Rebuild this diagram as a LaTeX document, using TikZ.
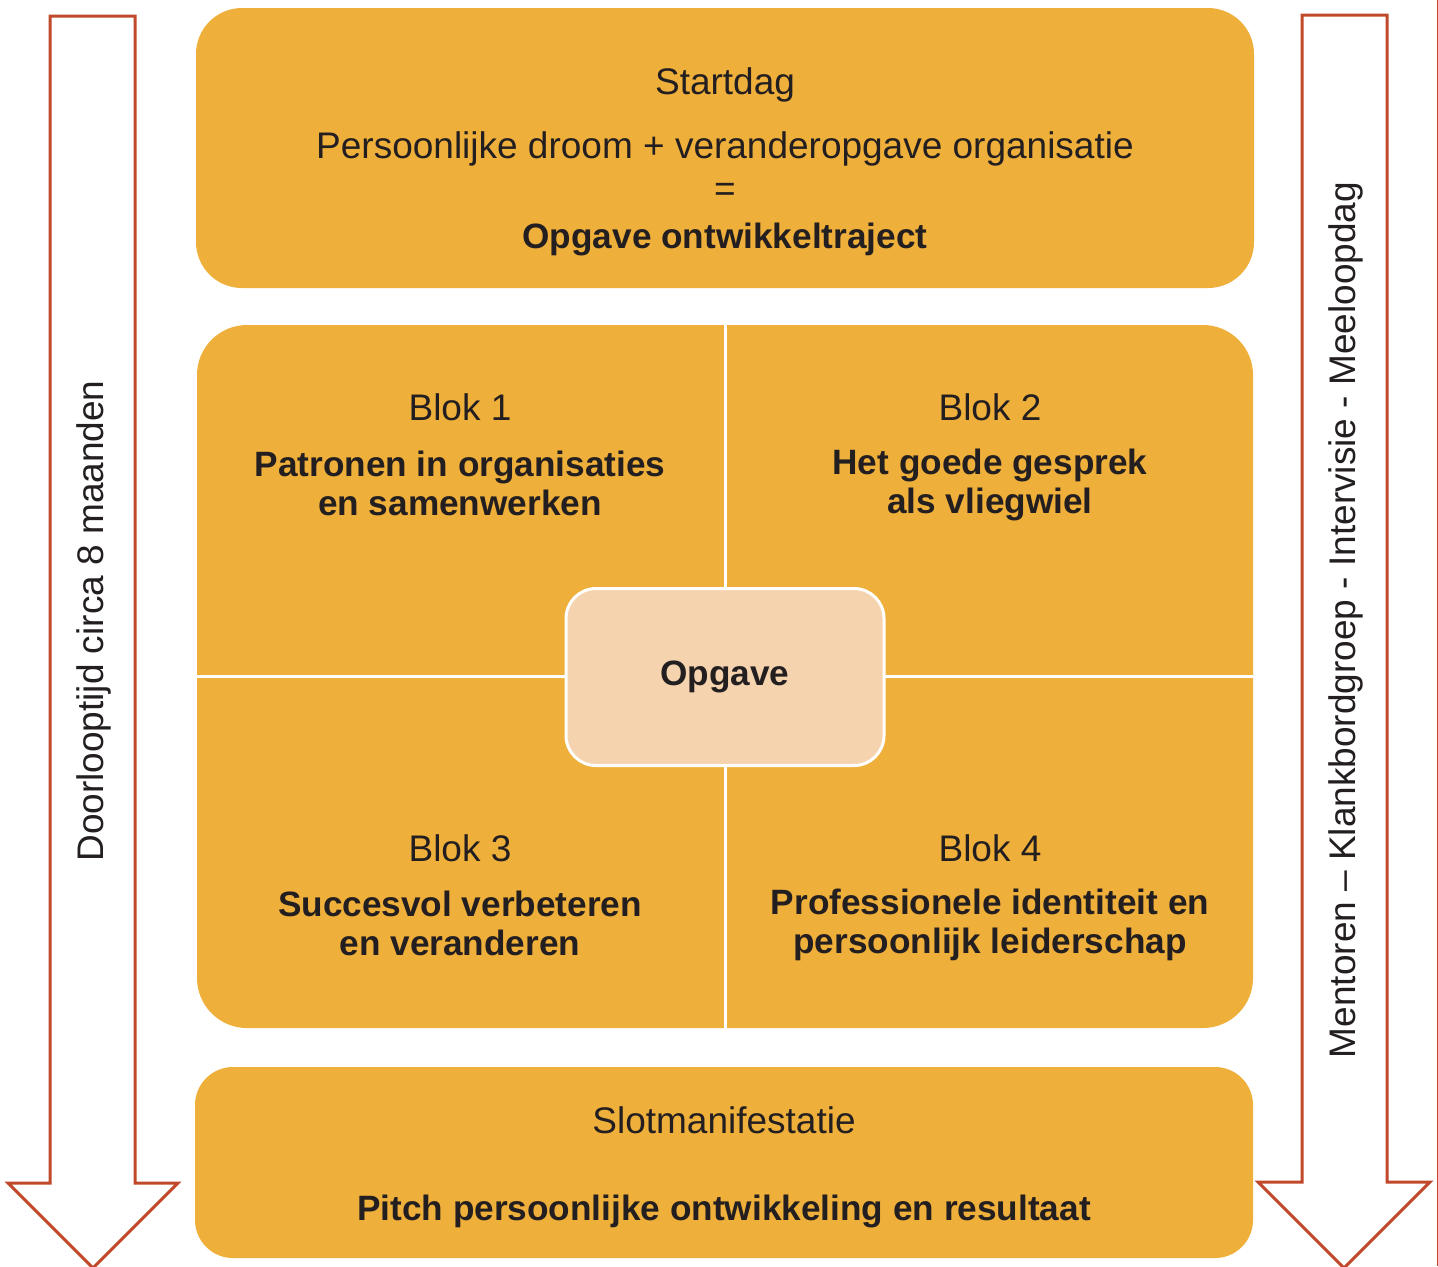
\documentclass[tikz,border=0pt]{standalone}
\usepackage{fontspec}
\setmainfont{Liberation Sans}
\definecolor{orng}{HTML}{EFAF3B}
\definecolor{peach}{HTML}{F5D3AE}
\definecolor{rust}{HTML}{C1492B}
\definecolor{ink}{HTML}{231F20}
\tikzset{
  panel/.style={fill=orng},
  divider/.style={draw=white, line width=1.5pt},
  bigarrow/.style={draw=rust, line width=1.5pt, line join=miter, fill=white},
  reg/.style={text=ink, font=\fontsize{18.5}{22}\selectfont, inner sep=0pt},
  bld/.style={text=ink, font=\fontsize{17.6}{19.6}\selectfont\bfseries, align=center, inner sep=0pt},
  core/.style={draw=white, line width=1.5pt, fill=peach, rounded corners=15pt,
    minimum width=159pt, minimum height=88.5pt, text=ink,
    font=\fontsize{17.6}{20}\selectfont\bfseries},
}
\begin{document}
\begin{tikzpicture}[x=0.5pt,y=-0.5pt]
\useasboundingbox (0,0) rectangle (1438,1266);
% arrows
\draw[bigarrow] (50,16) -- (135,16) -- (135,1183) -- (178,1183) -- (93,1268) -- (8,1183) -- (50,1183) -- cycle;
\draw[bigarrow] (1302,15) -- (1387,15) -- (1387,1182) -- (1430,1182) -- (1344,1268) -- (1258,1182) -- (1302,1182) -- cycle;
\draw[rust, line width=0.6pt] (1437.4,0) -- (1437.4,1266);
\node[reg, rotate=90] (dur) at (94,621) {Doorlooptijd circa 8 maanden};
\node[reg, rotate=90] (sup) at (1346,620) {Mentoren – Klankbordgroep - Intervisie - Meeloopdag};
% top panel
\fill[panel, rounded corners=23pt] (196,8) rectangle (1254,288);
\node[reg] (start) at (725,85) {Startdag};
\node[reg] (droom) at (725,149) {Persoonlijke droom + veranderopgave organisatie};
\node[reg] (eq) at (725,192) {=};
\node[bld] (opg) at (725,239) {Opgave ontwikkeltraject};
% middle panel
\fill[panel, rounded corners=25pt] (197,325) rectangle (1253,1028);
\draw[divider] (725,325) -- (725,1028);
\draw[divider] (197,676) -- (1253,676);
\node[reg] (b1) at (460,407) {Blok 1};
\node[bld] (b1t) at (460,483) {Patronen in organisaties\\en samenwerken};
\node[reg] (b2) at (990,407) {Blok 2};
\node[bld] (b2t) at (990,485) {Het goede gesprek\\als vliegwiel};
\node[reg] (b3) at (460,848) {Blok 3};
\node[bld] (b3t) at (460,923) {Succesvol verbeteren\\en veranderen};
\node[reg] (b4) at (990,848) {Blok 4};
\node[bld] (b4t) at (990,925) {Professionele identiteit en\\persoonlijk leiderschap};
\node[core] (center) at (725,677) {Opgave};
% bottom panel
\fill[panel, rounded corners=19pt] (195,1067) rectangle (1253,1258);
\node[reg] (slot) at (724,1120) {Slotmanifestatie};
\node[bld] (pitch) at (724,1211) {Pitch persoonlijke ontwikkeling en resultaat};
\end{tikzpicture}
\end{document}
